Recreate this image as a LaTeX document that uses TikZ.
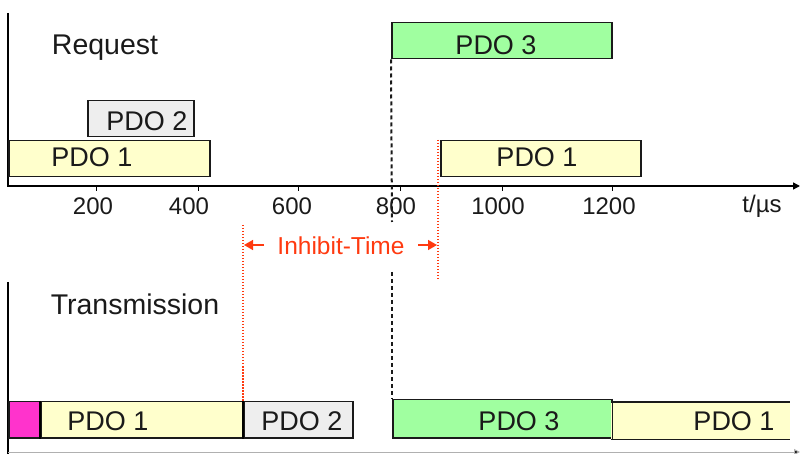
\documentclass[tikz,border=0pt]{standalone}
\usepackage{fontspec}
\setmainfont{Liberation Sans}
\usetikzlibrary{arrows.meta}
\definecolor{pdoyellow}{HTML}{FFFFCC}
\definecolor{pdogray}{HTML}{EEEEEE}
\definecolor{pdogreen}{HTML}{A0FFA0}
\definecolor{pdomagenta}{HTML}{FF33CC}
\definecolor{boxline}{HTML}{1A1A1A}
\definecolor{inhibit}{HTML}{FF3A10}
\definecolor{axisgray}{HTML}{B0B0B0}
\begin{document}
\begin{tikzpicture}[x=1pt,y=-1pt,
  box/.style={draw=boxline, line width=1.5pt, inner sep=0pt, anchor=north west, minimum height=36pt},
  openbox/.style={inner sep=0pt, anchor=north west, minimum height=37pt},
  lbl/.style={font=\fontsize{27}{30}\selectfont, inner sep=0pt, anchor=base, text=boxline},
  title/.style={font=\fontsize{28.5}{32}\selectfont, inner sep=0pt, anchor=base, text=boxline},
  ticklbl/.style={font=\fontsize{24}{28}\selectfont, inner sep=0pt, anchor=base, text=boxline},
  axis/.style={line width=1.5pt, draw=black},
  tickmark/.style={line width=1pt, draw=black},
  blackdash/.style={draw=boxline, line width=2pt, dash pattern=on 4pt off 3pt},
  reddot/.style={draw=inhibit, line width=1.6pt, dash pattern=on 1.5pt off 1.5pt},
  inharrow/.style={draw=inhibit, line width=1.4pt, -{Triangle[length=9pt,width=10pt]}}
]
\useasboundingbox (0,0) rectangle (801,454);

% ---------- top diagram (Request) ----------
\coordinate (yTop) at (8,13);
\coordinate (origin) at (8,186);
\coordinate (xEnd) at (800,186);
\draw[axis] (yTop) -- (origin);
\draw[axis, -{Triangle[length=7pt,width=7pt]}] (7,186) -- (xEnd);

\foreach \x/\t/\c in {96/200/93, 198/400/189, 298/600/292, 400/800/396, 502/1000/498, 612/1200/609}{
  \coordinate (tk\t) at (\x,186);
  \draw[tickmark] (tk\t) -- ++(0,5);
  \node[ticklbl] (tl\t) at (\c,215) {\t};
}
\node[ticklbl] (unit) at (762,213) {t/µs};

\node[title] (request) at (105,55) {Request};

\node[box, fill=pdogreen, minimum width=220pt] (rq3) at (391,22) {};
\node[lbl] (rq3t) at (496,55) {PDO 3};

\node[box, fill=pdogray, minimum width=106pt] (rq2) at (87,100) {};
\node[lbl] (rq2t) at (147,131) {PDO 2};

\node[box, fill=pdoyellow, minimum width=201pt] (rq1a) at (8,140) {};
\node[lbl] (rq1at) at (92,167) {PDO 1};

\node[box, fill=pdoyellow, minimum width=200pt] (rq1b) at (440,140) {};
\node[lbl] (rq1bt) at (537,167) {PDO 1};

% ---------- bottom diagram (Transmission) ----------
\coordinate (yTop2) at (8,282);
\coordinate (yBot2) at (8,454);
\draw[line width=1.2pt] (yTop2) -- (yBot2);
\draw[draw=axisgray, line width=1pt, -{Triangle[length=6pt,width=6pt,fill=black]}] (8,452) -- (800,452);

\node[title] (transmission) at (135,315) {Transmission};

\node[box, fill=pdomagenta, minimum width=32pt] (txm) at (8,401) {};
\node[box, fill=pdoyellow, minimum width=202pt] (tx1) at (40,401) {};
\draw[line width=2.5pt, draw=black] (tx1.north west) -- (tx1.south west);
\node[lbl] (tx1t) at (108,431) {PDO 1};

\node[box, fill=pdogray, minimum width=109pt] (tx2) at (243,401) {};
\draw[line width=2.5pt, draw=black] (tx2.north west) -- (tx2.south west);
\node[lbl] (tx2t) at (302,431) {PDO 2};

\node[box, fill=pdogreen, minimum width=219pt, minimum height=38pt] (tx3) at (392,399) {};
\node[lbl] (tx3t) at (519,431) {PDO 3};

\node[openbox, fill=pdoyellow, minimum width=179pt] (tx4) at (611,402) {};
\draw[draw=boxline, line width=1.5pt] (tx4.north west) -- (tx4.north east);
\draw[draw=boxline, line width=1.5pt] (tx4.south west) -- (tx4.south east);
\draw[draw=boxline, line width=1.5pt] (tx3.north east) -- (tx3.south east);
\node[lbl] (tx4t) at (734,431) {PDO 1};

% ---------- guide lines ----------
\coordinate (d1end) at (392,222);
\coordinate (d2start) at (392,272);
\draw[blackdash] (rq3.south west) -- (d1end);
\draw[blackdash] (d2start) -- (tx3.north west);

\coordinate (r1top) at (438,140);
\coordinate (r1bot) at (438,280);
\draw[reddot] (r1top) -- (r1bot);
\coordinate (r2top) at (243,225);
\draw[reddot] (r2top) -- (tx2.north west);

% ---------- inhibit time ----------
\node[font=\fontsize{24.5}{28}\selectfont, text=inhibit, inner sep=0pt, anchor=base] (inh) at (341,255) {Inhibit-Time};
\coordinate (inhL) at (244,245);
\coordinate (inhR) at (437,245);
\draw[inharrow] (264,245) -- (inhL);
\draw[inharrow] (418,245) -- (inhR);
\end{tikzpicture}
\end{document}
